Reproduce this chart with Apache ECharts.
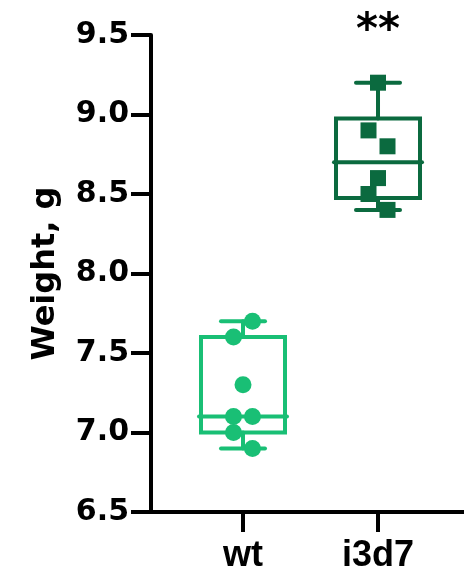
<!DOCTYPE html>
<html>
<head>
<meta charset="utf-8">
<script src="https://cdn.jsdelivr.net/npm/echarts@6/dist/echarts.min.js"></script>
<style>
  html, body { margin: 0; padding: 0; background: #fff; }
  #chart { width: 464px; height: 578px; }
</style>
</head>
<body>
<div id="chart"></div>
<script>
// ---- data ----
const categories = ['wt', 'i3d7'];
const wtValues = [7.7, 7.6, 7.3, 7.1, 7.1, 7.0, 6.9];
const i3d7Values = [9.2, 8.9, 8.8, 8.6, 8.5, 8.4];
// jitter direction of each point (-1 left, 0 centre, 1 right)
const wtJitter = [1, -1, 0, -1, 1, -1, 1];
const i3d7Jitter = [0, -1, 1, 0, -1, 1];
// box statistics: [min, Q1, median, Q3, max]
const wtBox = [6.9, 7.0, 7.1, 7.6, 7.7];
const i3d7Box = [8.4, 8.475, 8.7, 8.975, 9.2];
const yTickLabels = ['6.5', '7.0', '7.5', '8.0', '8.5', '9.0', '9.5'];
const significance = ['', '**'];

// ---- styling ----
const colors = ['#19bf75', '#0b6a3f'];
const LW = 4;
const boxHalf = 42, capHalf = 22, medHalf = 44, jitterPx = 9.5;

const chart = echarts.init(document.getElementById('chart'), null, { renderer: 'canvas' });

const boxData = [wtBox, i3d7Box].map((b, i) => [i + 1].concat(b));
const pointSeries = [wtValues, i3d7Values].map((vals, i) => {
  const jit = i === 0 ? wtJitter : i3d7Jitter;
  return {
    type: 'scatter',
    name: categories[i],
    symbol: i === 0 ? 'circle' : 'rect',
    symbolSize: i === 0 ? 17 : 16,
    itemStyle: { color: colors[i], opacity: 1 },
    z: 5,
    silent: true,
    data: vals.map((v, k) => ({ value: [i + 1, v], symbolOffset: [jit[k] * jitterPx, 0] }))
  };
});

const option = {
  animation: false,
  grid: { left: 151, right: 0, top: 35, bottom: 66, containLabel: false },
  xAxis: {
    type: 'value',
    min: 0.3185,
    max: 2.637,
    splitLine: { show: false },
    axisLine: { onZero: false, lineStyle: { color: '#000', width: LW } },
    axisTick: { show: true, customValues: [1, 2], length: 20, lineStyle: { color: '#000', width: LW } },
    axisLabel: {
      customValues: [1, 2],
      formatter: v => categories[Math.round(v) - 1] || '',
      margin: 26,
      color: '#000',
      fontFamily: 'Liberation Sans',
      fontWeight: 'bold',
      fontSize: 36
    }
  },
  yAxis: {
    type: 'value',
    min: 6.5,
    max: 9.5,
    interval: 0.5,
    name: 'Weight, g',
    nameLocation: 'middle',
    nameGap: 89,
    nameTextStyle: { color: '#000', fontFamily: 'DejaVu Sans', fontWeight: 'bold', fontSize: 32 },
    splitLine: { show: false },
    axisLine: { show: true, lineStyle: { color: '#000', width: LW } },
    axisTick: { show: true, length: 20, lineStyle: { color: '#000', width: LW } },
    axisLabel: {
      margin: 22,
      color: '#000',
      fontFamily: 'DejaVu Sans',
      fontWeight: 'bold',
      fontSize: 30,
      formatter: v => yTickLabels[Math.round((v - 6.5) / 0.5)] || ''
    }
  },
  series: [
    {
      type: 'custom',
      silent: true,
      z: 2,
      data: boxData,
      encode: { x: 0, y: [1, 2, 3, 4, 5] },
      renderItem: function (params, api) {
        const x = api.value(0);
        const idx = Math.round(x) - 1;
        const c = colors[idx];
        const pMin = api.coord([x, api.value(1)]);
        const pQ1 = api.coord([x, api.value(2)]);
        const pMed = api.coord([x, api.value(3)]);
        const pQ3 = api.coord([x, api.value(4)]);
        const pMax = api.coord([x, api.value(5)]);
        const cx = pMed[0];
        const st = { stroke: c, lineWidth: LW, fill: null, lineCap: 'round' };
        return {
          type: 'group',
          children: [
            { type: 'line', shape: { x1: cx, y1: pQ3[1], x2: cx, y2: pMax[1] }, style: st },
            { type: 'line', shape: { x1: cx, y1: pQ1[1], x2: cx, y2: pMin[1] }, style: st },
            { type: 'line', shape: { x1: cx - capHalf, y1: pMax[1], x2: cx + capHalf, y2: pMax[1] }, style: st },
            { type: 'line', shape: { x1: cx - capHalf, y1: pMin[1], x2: cx + capHalf, y2: pMin[1] }, style: st },
            { type: 'rect', shape: { x: cx - boxHalf, y: pQ3[1], width: boxHalf * 2, height: pQ1[1] - pQ3[1] },
              style: { stroke: c, lineWidth: LW, fill: null, lineJoin: 'miter' } },
            { type: 'line', shape: { x1: cx - medHalf, y1: pMed[1], x2: cx + medHalf, y2: pMed[1] }, style: st }
          ]
        };
      }
    }
  ].concat(pointSeries)
};

chart.setOption(option);

// significance stars above each group, placed through the chart's scale
const graphics = [];
significance.forEach((s, i) => {
  if (!s) return;
  const p = chart.convertToPixel({ gridIndex: 0 }, [i + 1, 9.5]);
  graphics.push({
    type: 'text',
    x: p[0],
    y: p[1] - 3,
    style: {
      text: s,
      fill: '#000',
      font: 'bold 42px "DejaVu Sans"',
      align: 'center',
      verticalAlign: 'middle'
    }
  });
});
chart.setOption({ graphic: graphics });
</script>
</body>
</html>
